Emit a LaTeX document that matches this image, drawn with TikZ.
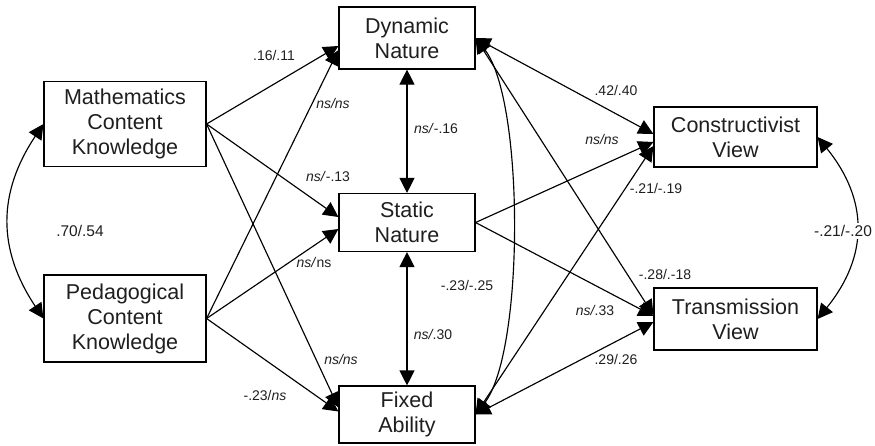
\documentclass[tikz,border=0pt]{standalone}
\usepackage{fontspec}
\setmainfont{Liberation Sans}
\usetikzlibrary{arrows.meta,calc}
\begin{document}
\begin{tikzpicture}[x=1pt,y=-1pt,
  box/.style={draw=black, line width=1.15pt, fill=white, align=center, inner sep=0pt,
    font=\fontsize{21.5}{25}\selectfont, text=black!88},
  path/.style={line width=1.15pt, -{Triangle[length=15pt,width=15pt]}},
  corr/.style={line width=1.15pt, {Triangle[length=15pt,width=15pt]}-{Triangle[length=15pt,width=15pt]}},
  lab/.style={font=\fontsize{14}{16}\selectfont, inner sep=1pt, text=black!88},
  biglab/.style={font=\fontsize{15.5}{17}\selectfont, inner sep=1pt, text=black!88},
]
\useasboundingbox (0,0) rectangle (875,445);

% latent variables
\node[box, minimum width=162pt, minimum height=85pt] (mck) at (125,124) {Mathematics\\Content\\Knowledge};
\node[box, minimum width=162pt, minimum height=87pt] (pck) at (125,318.5) {Pedagogical\\Content\\Knowledge};
\node[box, minimum width=136pt, minimum height=62pt] (dyn) at (407,38) {Dynamic\\Nature};
\node[box, minimum width=136pt, minimum height=58pt] (sta) at (407,222.5) {Static\\Nature};
\node[box, minimum width=136pt, minimum height=57pt] (fix) at (407,414.5) {Fixed\\Ability};
\node[box, minimum width=163pt, minimum height=60pt] (con) at (735.5,137) {Constructivist\\View};
\node[box, minimum width=163pt, minimum height=62pt] (tra) at (735.5,319) {Transmission\\View};

% knowledge -> beliefs about mathematics
\draw[path] (mck.east) -- ([yshift=-8pt]dyn.west);
\draw[path] (mck.east) -- ([yshift=5.5pt]sta.west);
\draw[path] (mck.east) -- ([yshift=7pt]fix.west);
\draw[path] (pck.east) -- ([yshift=-12pt]dyn.west);
\draw[path] (pck.east) -- ([yshift=-6.5pt]sta.west);
\draw[path] (pck.east) -- ([yshift=3pt]fix.west);

% correlations among the nature beliefs
\draw[corr] (dyn.south) -- (sta.north);
\draw[corr] (sta.south) -- (fix.north);
\draw[corr] (dyn.east) .. controls +(49,62) and +(49,-63) .. (fix.east);

% beliefs -> views of teaching
\draw[corr] (dyn.east) -- ([yshift=3pt]con.west);
\draw[corr] (dyn.east) -- ([yshift=4pt]tra.west);
\draw[path] (sta.east) -- ([yshift=-5pt]con.west);
\draw[path] (sta.east) -- ([yshift=3pt]tra.west);
\draw[corr] (fix.east) -- ([yshift=-9pt]con.west);
\draw[corr] (fix.east) -- ([yshift=-3pt]tra.west);

% correlations between exogenous / endogenous pairs
\draw[corr] (mck.west) .. controls +(-46,69) and +(-46,-69) .. (pck.west);
\draw[corr] (con.east) .. controls +(51,63) and +(51,-63) .. (tra.east);

% coefficients
\node[lab] (l1) at (274,55) {.16/.11};
\node[lab] (l2) at (333,103) {\textit{ns/ns}};
\node[lab] (l3) at (436,128) {\textit{ns/}-.16};
\node[lab] (l4) at (328,176) {\textit{ns/}-.13};
\node[biglab] (l5) at (80,231) {.70/.54};
\node[lab] (l6) at (314,262) {\textit{ns/}ns};
\node[lab] (l7) at (467,285) {-.23/-.25};
\node[lab] (l8) at (433,334) {\textit{ns/}.30};
\node[lab] (l9) at (341,359) {\textit{ns/ns}};
\node[lab] (l10) at (265,395) {-.23/\textit{ns}};
\node[lab] (l11) at (616,90) {.42/.40};
\node[lab] (l12) at (602,139) {\textit{ns/ns}};
\node[lab] (l13) at (656,188) {-.21/-.19};
\node[lab] (l14) at (665,274) {-.28/.-18};
\node[lab] (l15) at (595,310) {\textit{ns/}.33};
\node[lab] (l16) at (616,359) {.29/.26};
\node[biglab, fill=white, inner sep=2pt] (l17) at (843,231) {-.21/-.20};
\end{tikzpicture}
\end{document}
